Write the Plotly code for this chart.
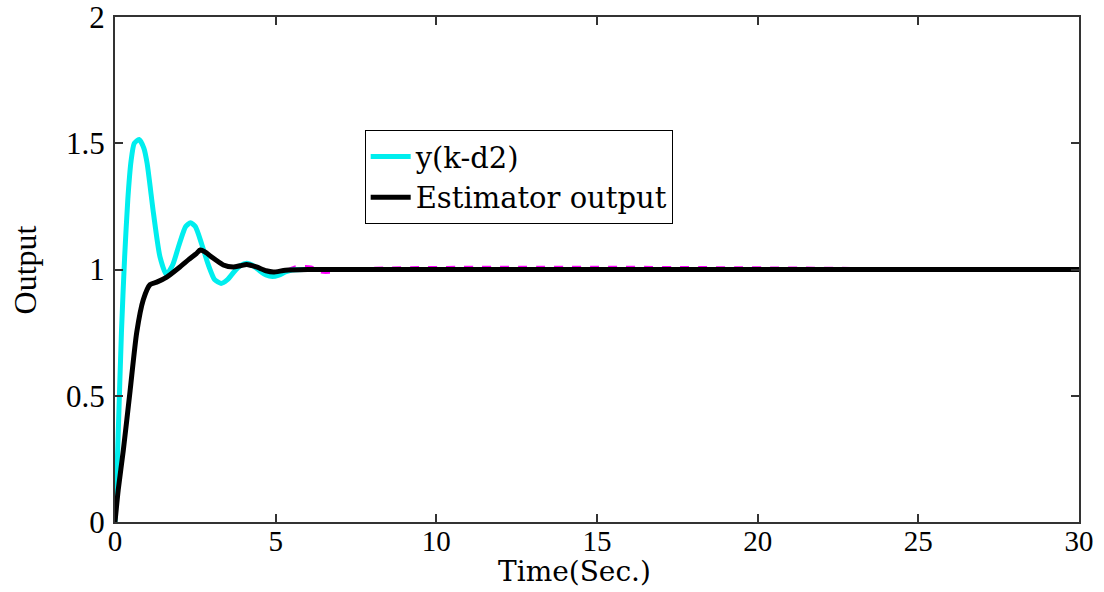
import plotly.graph_objects as go

# y(k-d2) (cyan)
t_y = [0, 0.05, 0.1, 0.2, 0.3, 0.4, 0.5, 0.6, 0.75, 0.9, 1.0, 1.2, 1.4, 1.6, 1.8, 2.0, 2.2, 2.35,
       2.5, 2.7, 2.9, 3.1, 3.3, 3.5, 3.7, 3.9, 4.1, 4.3, 4.5, 4.7, 4.9, 5.1, 5.3, 5.5, 6.0, 30]
v_y = [0, 0.15, 0.35, 0.75, 1.05, 1.28, 1.43, 1.50, 1.515, 1.48, 1.42, 1.22, 1.05, 0.98, 1.02, 1.10,
       1.17, 1.185, 1.17, 1.10, 1.02, 0.96, 0.945, 0.96, 0.99, 1.015, 1.025, 1.015, 0.995, 0.978,
       0.972, 0.978, 0.99, 0.998, 1.0, 1.0]

# Estimator output (black)
t_e = [0, 0.1, 0.26, 0.47, 0.675, 0.88, 1.09, 1.3, 1.61, 2.02, 2.3, 2.54, 2.65, 2.8, 3.0, 3.37,
       3.68, 3.9, 4.1, 4.4, 4.7, 4.93, 5.3, 6.0, 30]
v_e = [0, 0.127, 0.285, 0.52, 0.75, 0.88, 0.94, 0.95, 0.97, 1.01, 1.04, 1.064, 1.077, 1.07, 1.05,
       1.018, 1.01, 1.015, 1.02, 1.01, 0.995, 0.99, 0.997, 1.0, 1.0]

# hidden reference/plant signal (magenta, mostly covered by the black line)
t_m = [0, 0.1, 0.26, 0.47, 0.675, 0.88, 1.09, 1.3, 1.61, 2.02, 2.3, 2.54, 2.65, 2.8, 3.0, 3.37,
       3.68, 3.9, 4.1, 4.4, 4.7, 4.93, 5.3, 5.6, 6.1, 6.3, 6.4, 6.8, 7.0, 30]
v_m = [0, 0.127, 0.285, 0.52, 0.75, 0.88, 0.94, 0.95, 0.97, 1.01, 1.04, 1.064, 1.077, 1.07, 1.05,
       1.018, 1.01, 1.015, 1.02, 1.01, 0.995, 0.99, 0.997, 1.012, 1.012, 1.0, 0.988, 0.988, 1.0, 1.0]

x_ticks = [0, 5, 10, 15, 20, 25, 30]
y_ticks = [0, 0.5, 1, 1.5, 2]
y_tick_labels = ["0", "0.5", "1", "1.5", "2"]
x_title = "Time(Sec.)"
y_title = "Output"

serif = "Liberation Serif, Times New Roman, serif"
wide_serif = "DejaVu Serif, serif"

fig = go.Figure()
fig.add_trace(go.Scatter(x=t_m, y=v_m, mode="lines", line=dict(color="#ff00ff", width=2, dash="dash",
                         shape="spline", smoothing=0.6), showlegend=False, hoverinfo="skip"))
fig.add_trace(go.Scatter(x=t_y, y=v_y, mode="lines", name="y(k-d2)",
                         line=dict(color="#00eeee", width=5, shape="spline", smoothing=0.6)))
fig.add_trace(go.Scatter(x=t_e, y=v_e, mode="lines", name="Estimator output",
                         line=dict(color="black", width=5, shape="spline", smoothing=0.6)))

fig.update_layout(
    width=1104, height=592,
    margin=dict(l=115, r=25, t=17, b=70),
    paper_bgcolor="white", plot_bgcolor="white",
    font=dict(family=serif, color="black", size=30),
    legend=dict(x=0.259, y=0.776, xanchor="left", yanchor="top",
                bgcolor="white", bordercolor="black", borderwidth=1,
                font=dict(size=29, family=wide_serif), tracegroupgap=0,
                itemwidth=40),
    showlegend=True,
    annotations=[
        dict(text=x_title, xref="paper", yref="paper", x=0.477, y=-0.1347,
             xanchor="center", yanchor="bottom", showarrow=False,
             font=dict(size=28, family=wide_serif)),
        dict(text=y_title, xref="paper", yref="paper", x=-0.0934, y=0.5,
             xanchor="center", yanchor="middle", showarrow=False, textangle=-90,
             font=dict(size=32, family=serif)),
    ],
)
fig.update_xaxes(range=[0, 30], tickvals=x_ticks, ticks="inside", ticklen=8, tickwidth=2,
                 tickcolor="#333", showline=True, linecolor="#333", linewidth=2, mirror="ticks",
                 showgrid=False, zeroline=False, tickfont=dict(size=29, family=serif),
                 automargin=False, ticklabeloverflow="allow", ticklabelstandoff=-8)
fig.update_yaxes(range=[0, 2], tickvals=y_ticks, ticktext=y_tick_labels, ticks="inside", ticklen=8,
                 tickwidth=2, tickcolor="#333", showline=True, linecolor="#333", linewidth=2,
                 mirror="ticks", showgrid=False, zeroline=False, tickfont=dict(size=31, family=serif),
                 automargin=False, ticklabeloverflow="allow", ticklabelstandoff=2)

fig.write_html("out.html", post_script="document.body.style.margin='0';",
               config={"displayModeBar": False})
